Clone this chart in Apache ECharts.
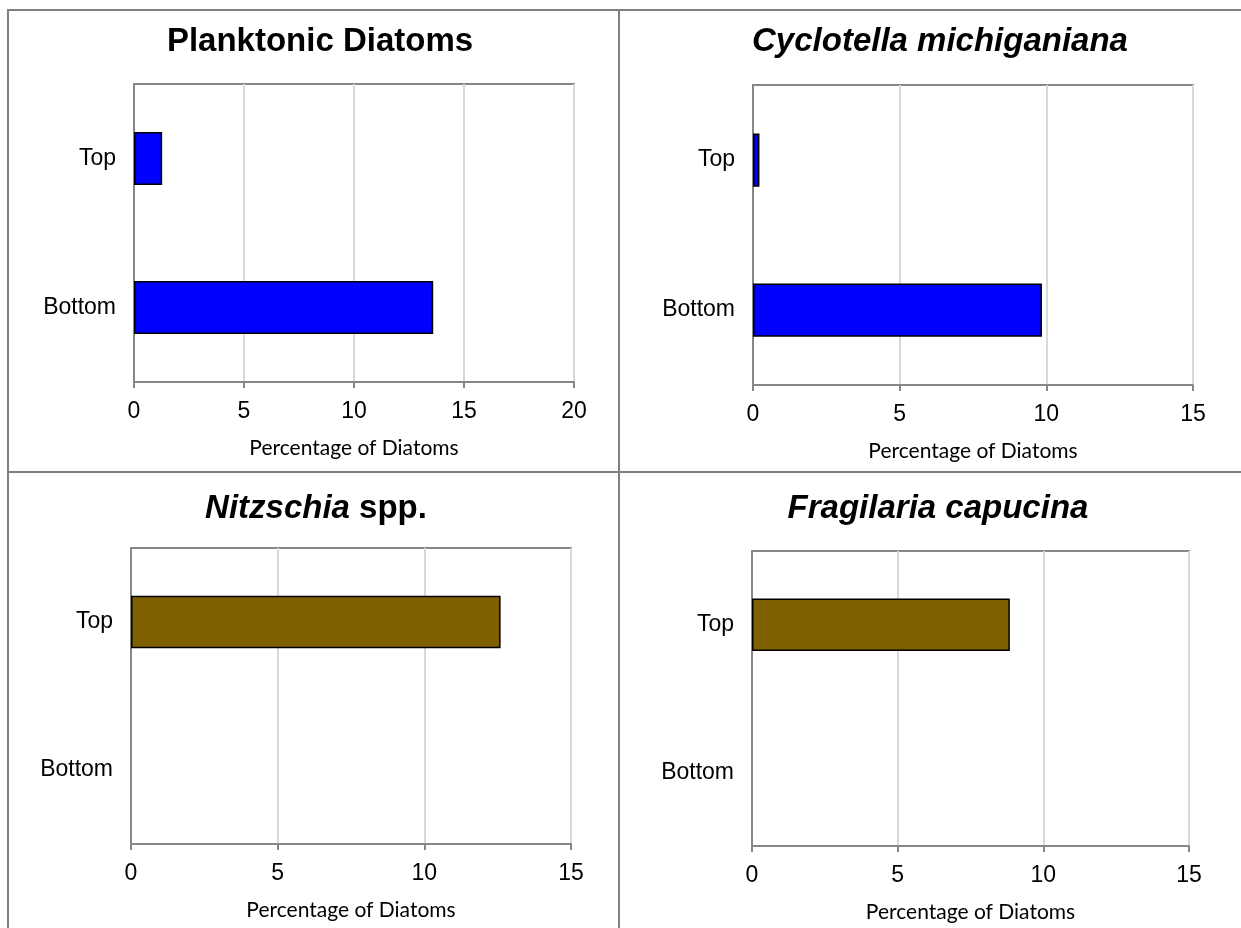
<!DOCTYPE html>
<html>
<head>
<meta charset="utf-8">
<script src="https://cdn.jsdelivr.net/npm/echarts@6/dist/echarts.min.js"></script>
<style>
  html, body { margin: 0; padding: 0; background: #fff; }
  #chart { width: 1241px; height: 928px; }
</style>
</head>
<body>
<div id="chart"></div>
<script>
// categories (bottom to top, as echarts draws a category y axis)
var depthLabels = ['Bottom', 'Top'];

// percentage of diatoms per panel
var planktonicValues = [13.6, 1.28];
var cyclotellaValues = [9.85, 0.22];
var nitzschiaValues = [0, 12.6];
var fragilariaValues = [0, 8.85];

var axisMax = [20, 15, 15, 15];
var axisName = 'Percentage of Diatoms';

var chart = echarts.init(document.getElementById('chart'));

var grids = [
  { left: 134, top: 84, width: 440, height: 298 },
  { left: 753, top: 85, width: 440, height: 300 },
  { left: 131, top: 548, width: 440, height: 296 },
  { left: 752, top: 551, width: 437, height: 295 }
];

var panels = [
  { data: planktonicValues, color: '#0000ff' },
  { data: cyclotellaValues, color: '#0000ff' },
  { data: nitzschiaValues, color: '#7f6000' },
  { data: fragilariaValues, color: '#7f6000' }
];

var titleFont = 'Liberation Sans, Arial, sans-serif';
var labelFont = 'Liberation Sans, Arial, sans-serif';

function makeTitle(text, x, y) {
  return {
    text: text,
    left: x,
    top: y,
    textAlign: 'center',
    padding: 0,
    textStyle: {
      fontFamily: titleFont,
      fontSize: 33,
      fontWeight: 'bold',
      color: '#000',
      rich: {
        i: { fontFamily: titleFont, fontSize: 33, fontWeight: 'bold', fontStyle: 'italic', color: '#000' },
        b: { fontFamily: titleFont, fontSize: 33, fontWeight: 'bold', color: '#000' }
      }
    }
  };
}

var option = {
  backgroundColor: '#fff',
  animation: false,
  title: [
    makeTitle('Planktonic Diatoms', 320, 25),
    makeTitle('{i|Cyclotella michiganiana}', 940, 25),
    makeTitle('{i|Nitzschia}{b| spp.}', 316, 492),
    makeTitle('{i|Fragilaria capucina}', 938, 492)
  ],
  grid: grids.map(function (g) {
    return {
      left: g.left, top: g.top, width: g.width, height: g.height,
      show: true,
      borderColor: '#878787',
      borderWidth: 2,
      backgroundColor: '#fff'
    };
  }),
  xAxis: grids.map(function (g, i) {
    return {
      type: 'value',
      gridIndex: i,
      min: 0,
      max: axisMax[i],
      interval: 5,
      name: axisName,
      nameLocation: 'middle',
      nameGap: 56,
      nameTextStyle: { fontFamily: 'Lato, sans-serif', fontSize: 21, color: '#000' },
      axisLine: { show: true, lineStyle: { color: '#878787', width: 2 } },
      axisTick: { show: true, length: 6, lineStyle: { color: '#878787', width: 2 } },
      axisLabel: { margin: 18, fontFamily: labelFont, fontSize: 23, color: '#000' },
      splitLine: { show: true, lineStyle: { color: '#d9d9d9', width: 2 } }
    };
  }),
  yAxis: grids.map(function (g, i) {
    return {
      type: 'category',
      gridIndex: i,
      data: depthLabels,
      axisLine: { show: true, lineStyle: { color: '#878787', width: 2 } },
      axisTick: { show: false },
      axisLabel: { margin: 18, fontFamily: labelFont, fontSize: 23, color: '#000' }
    };
  }),
  series: panels.map(function (p, i) {
    return {
      type: 'bar',
      xAxisIndex: i,
      yAxisIndex: i,
      // a zero bar gets no outline so it leaves no stray line on the axis
      data: p.data.map(function (v) {
        return v === 0 ? { value: v, itemStyle: { borderWidth: 0 } } : v;
      }),
      barWidth: '35.5%',
      itemStyle: { color: p.color, borderColor: '#000', borderWidth: 1.5 }
    };
  }),
  graphic: [
    // table frame around the four panels
    { type: 'line', shape: { x1: 8, y1: 9, x2: 8, y2: 928 }, style: { stroke: '#808080', lineWidth: 2 } },
    { type: 'line', shape: { x1: 7, y1: 10, x2: 1241, y2: 10 }, style: { stroke: '#808080', lineWidth: 2 } },
    { type: 'line', shape: { x1: 619, y1: 10, x2: 619, y2: 928 }, style: { stroke: '#808080', lineWidth: 2 } },
    { type: 'line', shape: { x1: 7, y1: 472, x2: 1241, y2: 472 }, style: { stroke: '#808080', lineWidth: 2 } }
  ]
};

chart.setOption(option);
</script>
</body>
</html>
